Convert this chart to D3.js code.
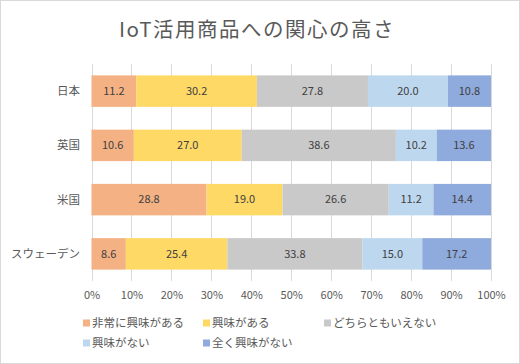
<!DOCTYPE html>
<html><head><meta charset="utf-8">
<script src="https://cdn.jsdelivr.net/npm/d3@7"></script>
<style>body{margin:0;background:#fff}svg{display:block;font-family:"Noto Sans CJK JP","Noto Sans",sans-serif}</style>
</head><body><svg id="c" width="520" height="364"></svg>
<script>
const categories = ["日本","英国","米国","スウェーデン"];
const seriesNames = ["非常に興味がある","興味がある","どちらともいえない","興味がない","全く興味がない"];
const seriesColors = ["#F4B183","#FFD966","#C9C9C9","#BDD7EE","#8FAADC"];
const s1 = [11.2,10.6,28.8,8.6];
const s2 = [30.2,27.0,19.0,25.4];
const s3 = [27.8,38.6,26.6,33.8];
const s4 = [20.0,10.2,11.2,15.0];
const s5 = [10.8,13.6,14.4,17.2];
const tickValues = [0,0.1,0.2,0.3,0.4,0.5,0.6,0.7,0.8,0.9,1.0];
const title = "IoT活用商品への関心の高さ";

const svg = d3.select("#c");
svg.append("rect").attr("x",0.5).attr("y",0.5).attr("width",519).attr("height",363).attr("fill","#fff").attr("stroke","#d9d9d9");
svg.append("text").attr("x",257).attr("y",37).attr("text-anchor","middle").attr("font-size",20.5)
  .attr("letter-spacing","1.5px").attr("fill","#595959").text(title);

const x = d3.scaleLinear().domain([0,1]).range([91.5,491]);
const y = d3.scaleBand().domain(categories).range([64,281]).paddingInner(0.42).paddingOuter(0.21);

// gridlines
svg.append("g").selectAll("line").data(tickValues).join("line")
  .attr("x1",d=>Math.round(x(d))+0.5).attr("x2",d=>Math.round(x(d))+0.5)
  .attr("y1",64).attr("y2",281).attr("stroke","#d9d9d9").attr("stroke-width",1);

const series = [s1,s2,s3,s4,s5];
const rows = categories.map((c,i)=>{const vals=series.map(s=>s[i]);const tot=d3.sum(vals);let acc=0;
  return vals.map((v,j)=>{const r={cat:c,j,v,x0:acc/tot,x1:(acc+v)/tot};acc+=v;return r;});});
const segs = rows.flat();
svg.append("g").selectAll("rect").data(segs).join("rect")
  .attr("x",d=>x(d.x0)).attr("width",d=>x(d.x1)-x(d.x0))
  .attr("y",d=>y(d.cat)).attr("height",y.bandwidth()).attr("fill",d=>seriesColors[d.j]);
svg.append("g").selectAll("text").data(segs).join("text")
  .attr("x",d=>(x(d.x0)+x(d.x1))/2).attr("y",d=>y(d.cat)+y.bandwidth()/2)
  .attr("dy","0.35em").attr("text-anchor","middle").attr("font-size",11).attr("fill","#404040")
  .text(d=>d.v.toFixed(1));

// category axis labels
svg.append("g").selectAll("text").data(categories).join("text")
  .attr("x",80).attr("y",d=>y(d)+y.bandwidth()/2).attr("dy","0.35em").attr("text-anchor","end")
  .attr("font-size",11.5).attr("fill","#595959").text(d=>d);

// x axis tick labels
const xAxis = d3.axisBottom(x).tickValues(tickValues).tickFormat(d3.format(".0%")).tickSize(0).tickPadding(0);
const gx = svg.append("g").attr("transform","translate(0,291)").call(xAxis);
gx.select(".domain").remove();
gx.selectAll("text").attr("font-size",11).attr("fill","#595959").attr("font-family",'"Noto Sans CJK JP","Noto Sans",sans-serif');

// legend
const legPos = [[83,323],[203,323],[324,323],[83,343],[203,343]];
const lg = svg.append("g").selectAll("g").data(seriesNames).join("g")
  .attr("transform",(d,i)=>`translate(${legPos[i][0]},${legPos[i][1]})`);
lg.append("rect").attr("x",0).attr("y",-3.5).attr("width",7).attr("height",7).attr("fill",(d,i)=>seriesColors[i]);
lg.append("text").attr("x",9).attr("y",0).attr("dy","0.35em").attr("font-size",11.5).attr("fill","#595959").text(d=>d);
</script></body></html>
